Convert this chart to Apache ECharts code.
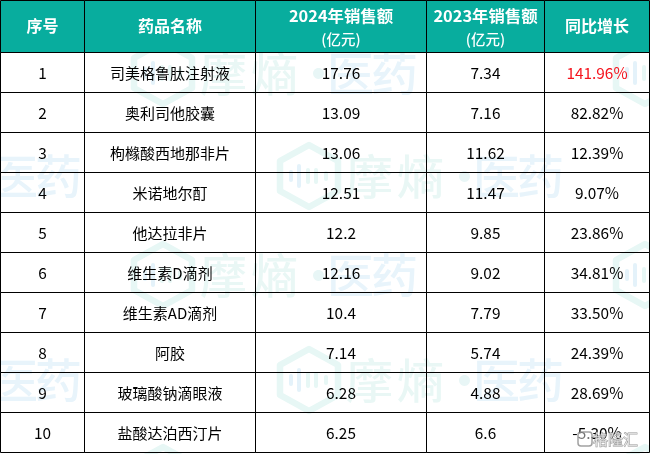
<!DOCTYPE html>
<html>
<head>
<meta charset="utf-8">
<style>
html, body { margin: 0; padding: 0; background: #fff; }
#main { width: 650px; height: 454px; }
</style>
<script src="https://cdn.jsdelivr.net/npm/echarts@6/dist/echarts.min.js"></script>
</head>
<body>
<div id="main"></div>
<script>
// 表格数据
var headers = [['序号'], ['药品名称'], ['2024年销售额', '(亿元)'], ['2023年销售额', '(亿元)'], ['同比增长']];
var ranks = [1, 2, 3, 4, 5, 6, 7, 8, 9, 10];
var drugs = ['司美格鲁肽注射液', '奥利司他胶囊', '枸橼酸西地那非片', '米诺地尔酊', '他达拉非片', '维生素D滴剂', '维生素AD滴剂', '阿胶', '玻璃酸钠滴眼液', '盐酸达泊西汀片'];
var sales2024 = [17.76, 13.09, 13.06, 12.51, 12.2, 12.16, 10.4, 7.14, 6.28, 6.25];
var sales2023 = [7.34, 7.16, 11.62, 11.47, 9.85, 9.02, 7.79, 5.74, 4.88, 6.6];
var growth = [141.96, 82.82, 12.39, 9.07, 23.86, 34.81, 33.50, 24.39, 28.69, -5.30];

// 版面
var colEdges = [0.5, 84.5, 255.5, 426.5, 544.5, 649.5];
var rowEdges = [0.5, 52.5, 92.5, 132.5, 172.5, 212.5, 252.5, 292.5, 332.5, 372.5, 412.5, 452.5];
var FONT = '"Noto Sans CJK SC", "Noto Sans", sans-serif';
var TEAL = '#08ad9e';

// 每个单元格: [列, 行, 文字, 颜色]
var cells = [];
headers.forEach(function (h, c) {
    cells.push([c, 0, h.join('\n'), '#fff']);
});
ranks.forEach(function (r, i) {
    cells.push([0, i + 1, String(r), '#000']);
    cells.push([1, i + 1, drugs[i], '#000']);
    cells.push([2, i + 1, String(sales2024[i]), '#000']);
    cells.push([3, i + 1, String(sales2023[i]), '#000']);
    cells.push([4, i + 1, growth[i].toFixed(2) + '%', i === 0 ? '#f5141e' : '#000']);
});

function renderCell(params, api) {
    var c = api.value(0), r = api.value(1);
    var p0 = api.coord([colEdges[c], rowEdges[r]]);
    var p1 = api.coord([colEdges[c + 1], rowEdges[r + 1]]);
    var lines = String(cells[params.dataIndex][2]).split('\n');
    var color = cells[params.dataIndex][3];
    var cx = (p0[0] + p1[0]) / 2, cy = (p0[1] + p1[1]) / 2;
    var children = [{
        type: 'rect',
        shape: { x: p0[0], y: p0[1], width: p1[0] - p0[0], height: p1[1] - p0[1] },
        style: { fill: r === 0 ? TEAL : 'transparent', stroke: '#000', lineWidth: 1 }
    }];
    if (r === 0 && lines.length === 2) {
        children.push(textEl(cx, 16, lines[0], 16.4, 'bold', color));
        children.push(textEl(cx, 39, lines[1], 14.5, '500', color));
    } else {
        var size = r === 0 ? 16 : (c === 1 ? 15 : 15.4);
        children.push(textEl(cx, r === 0 ? cy - 0.5 : cy + 0.5, lines[0], size, r === 0 ? 'bold' : 'normal', color));
    }
    return { type: 'group', children: children };
}

function textEl(x, y, text, size, weight, color) {
    return {
        type: 'text',
        style: { x: x, y: y, text: text, fill: color, align: 'center', verticalAlign: 'middle',
            font: weight + ' ' + size + 'px ' + FONT }
    };
}

// 水印
function watermark(left, cy) {
    var group = [];
    var hx = left + 35, stroke = '#e7f7f5';
    group.push({
        type: 'polygon',
        shape: { points: [[hx, cy - 31], [hx + 29, cy - 15], [hx + 29, cy + 15], [hx, cy + 31], [hx - 29, cy + 15], [hx - 29, cy - 15]] },
        style: { fill: 'none', stroke: stroke, lineWidth: 6.5, lineJoin: 'round' }
    });
    [[-18, 4], [-10, 10], [-1, 6], [7, 6], [17, 3]].forEach(function (b, i) {
        group.push({
            type: 'line',
            shape: { x1: hx + b[0], y1: cy - b[1], x2: hx + b[0], y2: cy + b[1] },
            style: { stroke: i < 2 ? '#e4f2fa' : '#e7f7f5', lineWidth: 4, lineCap: 'round' }
        });
    });
    [['摩', 72, '#e9f7f5'], ['熵', 123, '#e9f7f5'], ['·', 167, '#e8f6f6'], ['医', 199, '#e8f4fb'], ['药', 243, '#e8f4fb']].forEach(function (t) {
        group.push({
            type: 'text',
            style: { x: left + t[1], y: cy, text: t[0], fill: t[2], align: 'left', verticalAlign: 'middle',
                font: '500 47px ' + FONT }
        });
    });
    return group;
}

var marks = [];
[[128, 73], [610, 73], [-208, 176], [274, 176], [128, 275], [610, 275], [-208, 380], [274, 380], [128, 478], [610, 478]].forEach(function (m) {
    marks = marks.concat(watermark(m[0], m[1]));
});

// 右下角 logo
var stamp = [
    { type: 'rect', shape: { x: 578, y: 432, width: 14, height: 14, r: 3 }, z: 100,
      style: { fill: 'rgba(255,255,255,0.45)', stroke: 'rgba(130,130,130,0.75)', lineWidth: 1.5 } },
    { type: 'text', z: 100, style: { x: 593, y: 439, text: '格隆汇', fill: 'rgba(255,255,255,0.6)',
      stroke: 'rgba(120,120,120,0.8)', lineWidth: 0.8, verticalAlign: 'middle', font: '15px ' + FONT } }
];

var myChart = echarts.init(document.getElementById('main'), null, { renderer: 'canvas' });
myChart.setOption({
    animation: false,
    backgroundColor: '#fff',
    grid: { left: 0, right: 0, top: 0, bottom: 0 },
    xAxis: { type: 'value', min: 0, max: 650, show: false },
    yAxis: { type: 'value', min: 0, max: 454, inverse: true, show: false },
    graphic: marks.concat(stamp),
    series: [{
        type: 'custom',
        coordinateSystem: 'cartesian2d',
        renderItem: renderCell,
        encode: { x: 0, y: 1 },
        clip: false,
        data: cells.map(function (d) { return [d[0], d[1]]; }),
        z: 10
    }]
});
</script>
</body>
</html>
